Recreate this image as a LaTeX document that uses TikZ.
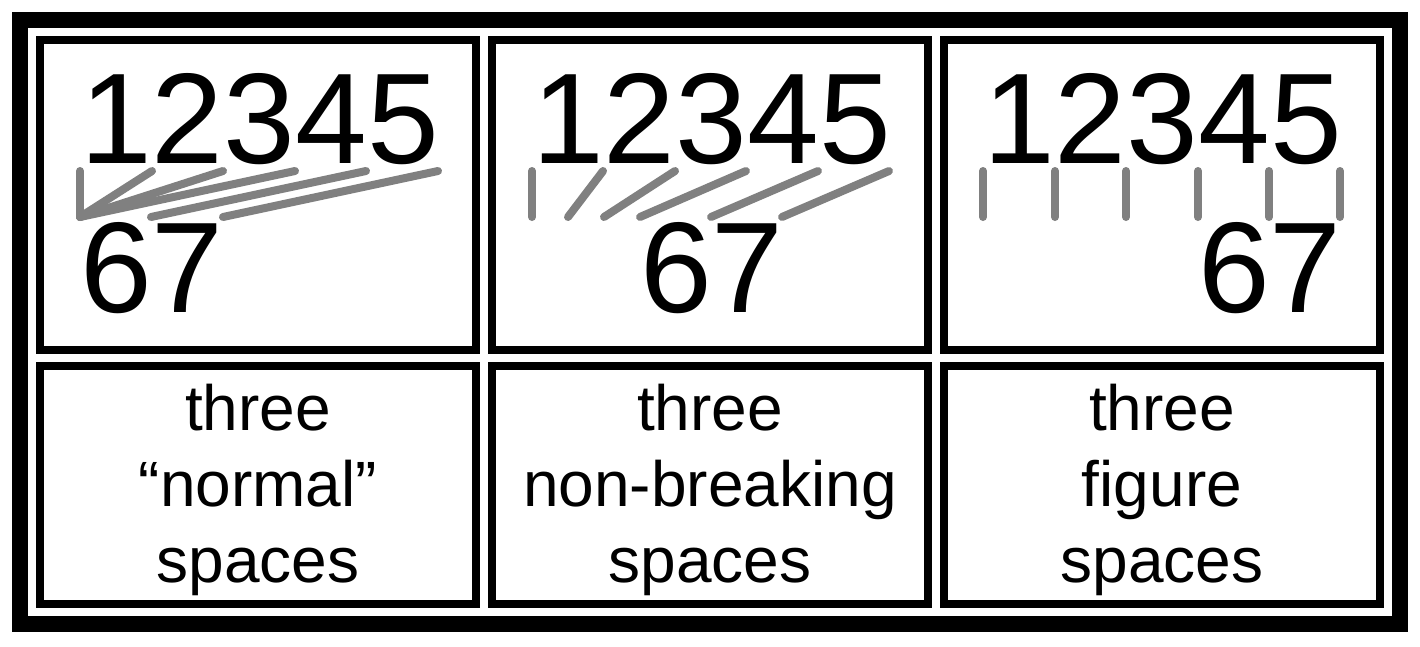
\documentclass[tikz,border=0pt]{standalone}
\usepackage{fontspec}
\setmainfont{Liberation Sans}
\begin{document}
\begin{tikzpicture}[x=1pt,y=-1pt,
  frame/.style={draw=black,line width=16pt},
  panel/.style={draw=black,line width=8pt},
  big/.style={inner sep=0pt,anchor=base west,font=\fontsize{129}{129}\selectfont},
  caption/.style={inner sep=0pt,anchor=base,align=center,font=\fontsize{64}{76}\selectfont},
  link/.style={draw=black!50,line width=8pt,line cap=round}]
\useasboundingbox (0,0) rectangle (1420,646);
\fill[white] (0,0) rectangle (1420,646);
\draw[frame] (20,20) rectangle (1400,624);
% panels
\draw[panel] (40,40) rectangle (476,350);
\draw[panel] (492,40) rectangle (928,350);
\draw[panel] (944,40) rectangle (1380,350);
\draw[panel] (40,366) rectangle (476,604);
\draw[panel] (492,366) rectangle (928,604);
\draw[panel] (944,366) rectangle (1380,604);
% texts
\node[big] (a1) at (80,163) {12345};
\node[big] (a2) at (80,312) {67};
\node[big] (b1) at (532,163) {12345};
\node[big] (b2) at (640,312) {67};
\node[big] (c1) at (983,163) {12345};
\node[big] (c2) at (1198,312) {67};
% links panel 1
\foreach \t/\b in {80/80,152/80,223/80,295/80,366/151,438/223}
  \draw[link] (\t,171) -- (\b,217);
% links panel 2
\foreach \t/\b in {532/532,603/568,675/604,746/640,818/711,889/782}
  \draw[link] (\t,171) -- (\b,217);
% links panel 3
\foreach \t in {983,1055,1126,1198,1269,1340}
  \draw[link] (\t,171) -- (\t,217);
% captions
\node[caption] (ca) at (258,582) {three\\“normal”\\spaces};
\node[caption] (cb) at (710,582) {three\\non-breaking\\spaces};
\node[caption] (cc) at (1162,582) {three\\figure\\spaces};
\end{tikzpicture}
\end{document}
